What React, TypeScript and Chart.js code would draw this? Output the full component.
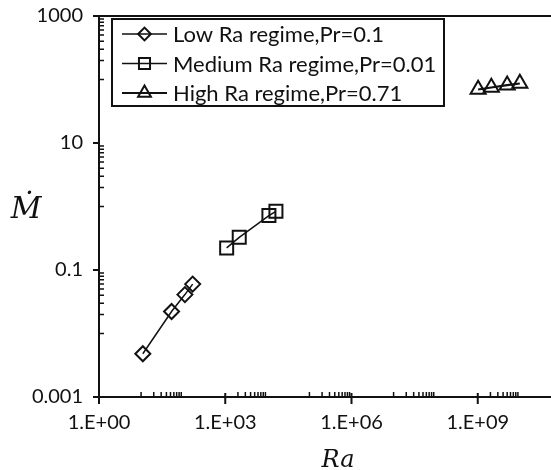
import React, { useEffect, useRef } from "react";
import { Chart, registerables } from "chart.js";

Chart.register(...registerables);

// ---- data ----
const seriesLabels = [
  "Low Ra regime,Pr=0.1",
  "Medium Ra regime,Pr=0.01",
  "High Ra regime,Pr=0.71",
];
const lowRa = [11, 53, 110, 168];
const lowM = [0.0048, 0.0222, 0.041, 0.06];
const mediumRa = [1080, 2150, 10900, 16000];
const mediumM = [0.223, 0.327, 0.72, 0.84];
const highRa = [1.02e9, 2.1e9, 5.0e9, 1.0e10];
const highM = [69.6, 74.8, 81.3, 86.5];

const xMajorTicks = [1, 1e3, 1e6, 1e9];
const xTickLabels = ["1.E+00", "1.E+03", "1.E+06", "1.E+09"];
const yMajorTicks = [0.001, 0.1, 10, 1000];
const yTickLabels = ["0.001", "0.1", "10", "1000"];
const minorMultipliers = [1, 2, 3, 4, 5, 6, 7, 8, 9];
const xMinorDecades = [1, 3, 5, 7, 9];
const yMinorDecades = [-2, 0, 2];

const X_MIN = 1;
const X_MAX = 5.5e10;
const Y_MIN = 0.001;
const Y_MAX = 1000;

const INK = "#111";
const TICK_FONT = "Lato";

function drawMarker(ctx: CanvasRenderingContext2D, style: string, x: number, y: number, r: number) {
  ctx.beginPath();
  if (style === "rectRot") {
    ctx.moveTo(x - r, y);
    ctx.lineTo(x, y - r);
    ctx.lineTo(x + r, y);
    ctx.lineTo(x, y + r);
    ctx.closePath();
  } else if (style === "rect") {
    const h = Math.SQRT1_2 * r;
    ctx.rect(x - h, y - h, 2 * h, 2 * h);
  } else if (style === "triangle") {
    for (let i = 0; i < 3; i++) {
      const a = -Math.PI / 2 + (i * 2 * Math.PI) / 3;
      const px = x + Math.cos(a) * r;
      const py = y + Math.sin(a) * r;
      if (i === 0) ctx.moveTo(px, py);
      else ctx.lineTo(px, py);
    }
    ctx.closePath();
  }
  ctx.stroke();
}

const framePlugin = {
  id: "framePlugin",
  afterDraw(chart: any) {
    const ctx: CanvasRenderingContext2D = chart.ctx;
    const { left, right, top, bottom } = chart.chartArea;
    const xs = chart.scales.x;
    const ys = chart.scales.y;
    ctx.save();
    ctx.strokeStyle = INK;
    ctx.lineCap = "butt";

    // frame
    ctx.lineWidth = 2;
    ctx.beginPath();
    ctx.moveTo(left, top);
    ctx.lineTo(right, top);
    ctx.moveTo(left, top - 1);
    ctx.lineTo(left, bottom + 7);
    ctx.moveTo(left - 6, bottom);
    ctx.lineTo(right, bottom);
    ctx.stroke();

    // major ticks
    ctx.lineWidth = 2;
    ctx.beginPath();
    yMajorTicks.forEach((v) => {
      const py = ys.getPixelForValue(v);
      ctx.moveTo(left - 6, py);
      ctx.lineTo(left, py);
    });
    xMajorTicks.forEach((v) => {
      const px = xs.getPixelForValue(v);
      ctx.moveTo(px, bottom - 4);
      ctx.lineTo(px, bottom + 7);
    });
    ctx.stroke();

    // minor ticks
    ctx.lineWidth = 1.5;
    ctx.beginPath();
    yMinorDecades.forEach((d) => {
      minorMultipliers.forEach((k) => {
        const v = k * Math.pow(10, d);
        if (v < Y_MIN || v > Y_MAX) return;
        const py = ys.getPixelForValue(v);
        ctx.moveTo(left, py);
        ctx.lineTo(left + 5, py);
      });
    });
    xMinorDecades.forEach((d) => {
      minorMultipliers.forEach((k) => {
        const v = k * Math.pow(10, d);
        if (v < X_MIN || v > X_MAX) return;
        if (xMajorTicks.some((m) => Math.abs(m - v) / m < 1e-9)) return;
        const px = xs.getPixelForValue(v);
        ctx.moveTo(px, bottom);
        ctx.lineTo(px, bottom - 5);
      });
    });
    ctx.stroke();

    // legend
    const bx = left + 13;
    const by = top + 3;
    const bw = 332;
    const bh = 87;
    ctx.fillStyle = "#fff";
    ctx.fillRect(bx, by, bw, bh);
    ctx.lineWidth = 2;
    ctx.strokeRect(bx, by, bw, bh);
    chart.data.datasets.forEach((ds: any, i: number) => {
      const ry = by + 15 + i * 29.5;
      ctx.lineWidth = ds.borderWidth;
      ctx.beginPath();
      ctx.moveTo(bx + 10, ry);
      ctx.lineTo(bx + 55, ry);
      ctx.stroke();
      ctx.lineWidth = ds.pointBorderWidth;
      drawMarker(ctx, ds.pointStyle, bx + 32.5, ry, ds.pointRadius * 0.85);
      ctx.fillStyle = INK;
      ctx.font = `22px ${TICK_FONT}`;
      ctx.textAlign = "left";
      ctx.textBaseline = "middle";
      ctx.fillText(ds.label, bx + 61, ry + 1);
    });

    // axis titles
    ctx.fillStyle = INK;
    ctx.textAlign = "center";
    ctx.textBaseline = "alphabetic";
    ctx.font = "italic 24px 'DejaVu Serif'";
    ctx.fillText("Ra", left + 239, 467);
    ctx.font = "italic 30px 'DejaVu Serif'";
    ctx.fillText("\u1E40", 26, 218);

    ctx.restore();
  },
};

export default function App() {
  const canvasRef = useRef<HTMLCanvasElement | null>(null);

  useEffect(() => {
    document.body.style.margin = "0";
    const canvas = canvasRef.current;
    if (!canvas) return;

    const mk = (label: string, xs: number[], ys: number[], style: string, radius: number, lw: number) => ({
      label,
      data: xs.map((x, i) => ({ x, y: ys[i] })),
      borderColor: INK,
      backgroundColor: "rgba(0,0,0,0)",
      borderWidth: lw,
      pointStyle: style,
      pointRadius: radius,
      pointBorderWidth: 2,
      pointBorderColor: INK,
      pointBackgroundColor: "rgba(0,0,0,0)",
      showLine: true,
      tension: 0,
      fill: false,
    });

    const chart = new Chart(canvas, {
      type: "line",
      data: {
        datasets: [
          mk(seriesLabels[0], lowRa, lowM, "rectRot", 7.5, 1.5),
          mk(seriesLabels[1], mediumRa, mediumM, "rect", 9.2, 1.5),
          mk(seriesLabels[2], highRa, highM, "triangle", 8.7, 2.2),
        ] as any,
      },
      options: {
        animation: false,
        responsive: false,
        devicePixelRatio: 1,
        layout: { autoPadding: false, padding: { top: 16, left: 0, right: 0, bottom: 0 } },
        plugins: { legend: { display: false }, tooltip: { enabled: false }, title: { display: false } },
        scales: {
          x: {
            type: "logarithmic",
            min: X_MIN,
            max: X_MAX,
            grid: { display: false, drawTicks: false },
            border: { display: false },
            ticks: {
              autoSkip: false,
              maxRotation: 0,
              minRotation: 0,
              padding: 14,
              color: INK,
              font: { family: TICK_FONT, size: 20 },
              callback: (v: any) => {
                const i = xMajorTicks.indexOf(Number(v));
                return i >= 0 ? xTickLabels[i] : "";
              },
            },
            afterBuildTicks: (s: any) => {
              s.ticks = xMajorTicks.map((v) => ({ value: v }));
            },
            afterFit: (s: any) => {
              s.height = 73;
              s.paddingLeft = 0;
              s.paddingRight = 0;
            },
          },
          y: {
            type: "logarithmic",
            min: Y_MIN,
            max: Y_MAX,
            grid: { display: false, drawTicks: false },
            border: { display: false },
            ticks: {
              autoSkip: false,
              padding: 16,
              color: INK,
              font: { family: TICK_FONT, size: 20 },
              callback: (v: any) => {
                const i = yMajorTicks.indexOf(Number(v));
                return i >= 0 ? yTickLabels[i] : "";
              },
            },
            afterBuildTicks: (s: any) => {
              s.ticks = yMajorTicks.map((v) => ({ value: v }));
            },
            afterFit: (s: any) => {
              s.width = 99;
              s.paddingTop = 0;
              s.paddingBottom = 0;
            },
          },
        },
      } as any,
      plugins: [framePlugin],
    });

    return () => chart.destroy();
  }, []);

  return (
    <div style={{ width: 551, height: 470, position: "relative", background: "#fff" }}>
      <canvas ref={canvasRef} width={551} height={470} style={{ display: "block" }} />
    </div>
  );
}
